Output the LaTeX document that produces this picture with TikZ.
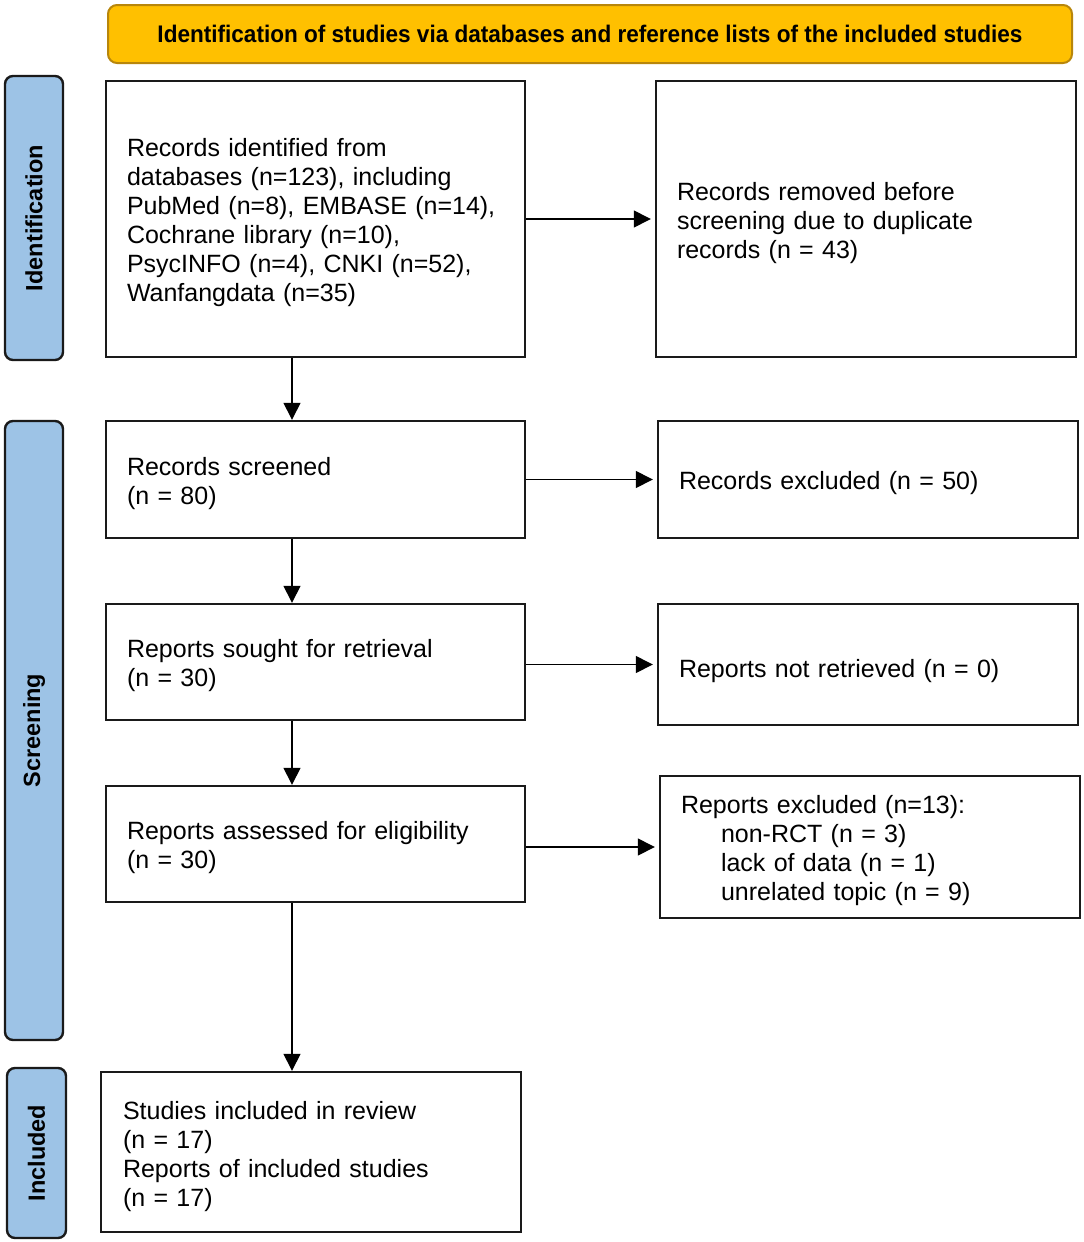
\documentclass[tikz,border=0pt]{standalone}
\usepackage{fontspec}
\setmainfont{Liberation Sans}
\newfontfamily\narrowfont[FakeStretch=0.94]{Liberation Sans Bold}
\usetikzlibrary{arrows.meta}
\definecolor{gold}{HTML}{FFC000}
\definecolor{golddark}{HTML}{B8860B}
\definecolor{sideblue}{HTML}{9DC3E6}
\definecolor{boxline}{HTML}{1A1A1A}
\tikzset{
  box/.style={draw=boxline, line width=2.4pt, fill=white, align=left, inner xsep=21pt,
    font=\fontsize{25}{29}\selectfont, execute at begin node={\rule{0pt}{25.5pt}}},
  side/.style={draw=boxline, line width=2.4pt, fill=sideblue, rounded corners=8pt, rotate=90,
    font=\fontsize{23.5}{28}\selectfont\bfseries, inner sep=0pt},
  arr/.style={-{Triangle[length=17pt,width=17pt]}, line width=1.4pt, draw=black, shorten >=4pt},
}
\begin{document}
\begin{tikzpicture}[x=1pt,y=-1pt]
\useasboundingbox (0,0) rectangle (1084,1242);
\fill[white] (0,0) rectangle (1084,1242);

% banner
\node[draw=golddark, line width=2pt, fill=gold, rounded corners=9pt, minimum width=964pt, minimum height=58pt, inner sep=0pt,
  font=\narrowfont\fontsize{24}{28}\selectfont] (banner) at (590,34) {Identification of studies via databases and reference lists of the included studies};

% side labels
\node[side, minimum width=284pt, minimum height=58pt] (sid) at (34,218) {Identification};
\node[side, minimum width=619pt, minimum height=58pt] (sscr) at (34,730.5) {Screening};
\node[side, minimum width=170pt, minimum height=59pt] (sinc) at (36.5,1153) {Included};

% boxes
\node[box, minimum width=419pt, minimum height=276pt, text width=377pt] (b1) at (315.5,219)
  {Records identified from\\databases (n=123), including\\PubMed (n=8), EMBASE (n=14),\\Cochrane library (n=10),\\PsycINFO (n=4), CNKI (n=52),\\Wanfangdata (n=35)};
\node[box, minimum width=420pt, minimum height=276pt, text width=378pt] (b2) at (866,219)
  {Records removed before\\screening due to duplicate\\records (n = 43)};
\node[box, minimum width=419pt, minimum height=117pt, text width=377pt] (b3) at (315.5,479.5)
  {Records screened\\(n = 80)};
\node[box, minimum width=420pt, minimum height=117pt, text width=378pt] (b4) at (868,479.5)
  {Records excluded (n = 50)};
\node[box, minimum width=419pt, minimum height=116pt, text width=377pt] (b5) at (315.5,662)
  {Reports sought for retrieval\\(n = 30)};
\node[box, minimum width=420pt, minimum height=121pt, text width=378pt,
  execute at begin node={\rule{0pt}{31pt}}] (b6) at (868,664.5)
  {Reports not retrieved (n = 0)};
\node[box, minimum width=419pt, minimum height=116pt, text width=377pt] (b7) at (315.5,844)
  {Reports assessed for eligibility\\(n = 30)};
\node[box, minimum width=420pt, minimum height=142pt, text width=378pt] (b8) at (870,847)
  {Reports excluded (n=13):\\\hspace*{40pt}non-RCT (n = 3)\\\hspace*{40pt}lack of data (n = 1)\\\hspace*{40pt}unrelated topic (n = 9)};
\node[box, minimum width=420pt, minimum height=160pt, text width=376pt, inner xsep=22pt,
  execute at begin node={\rule{0pt}{27.5pt}}] (b9) at (311,1152)
  {Studies included in review\\(n = 17)\\Reports of included studies\\(n = 17)};

\coordinate (vx) at (292,0);

% arrows
\draw[arr] (b1.east) -- (b2.west);
\draw[arr] (b3.east) -- (b4.west);
\draw[arr] (b6.west -| b5.east) -- (b6.west);
\draw[arr] (b8.west -| b7.east) -- (b8.west);
\draw[arr, shorten >=0pt] (b1.south -| vx) -- (b3.north -| vx);
\draw[arr, shorten >=0pt] (b3.south -| vx) -- (b5.north -| vx);
\draw[arr, shorten >=0pt] (b5.south -| vx) -- (b7.north -| vx);
\draw[arr, shorten >=0pt] (b7.south -| vx) -- (b9.north -| vx);
\end{tikzpicture}
\end{document}
